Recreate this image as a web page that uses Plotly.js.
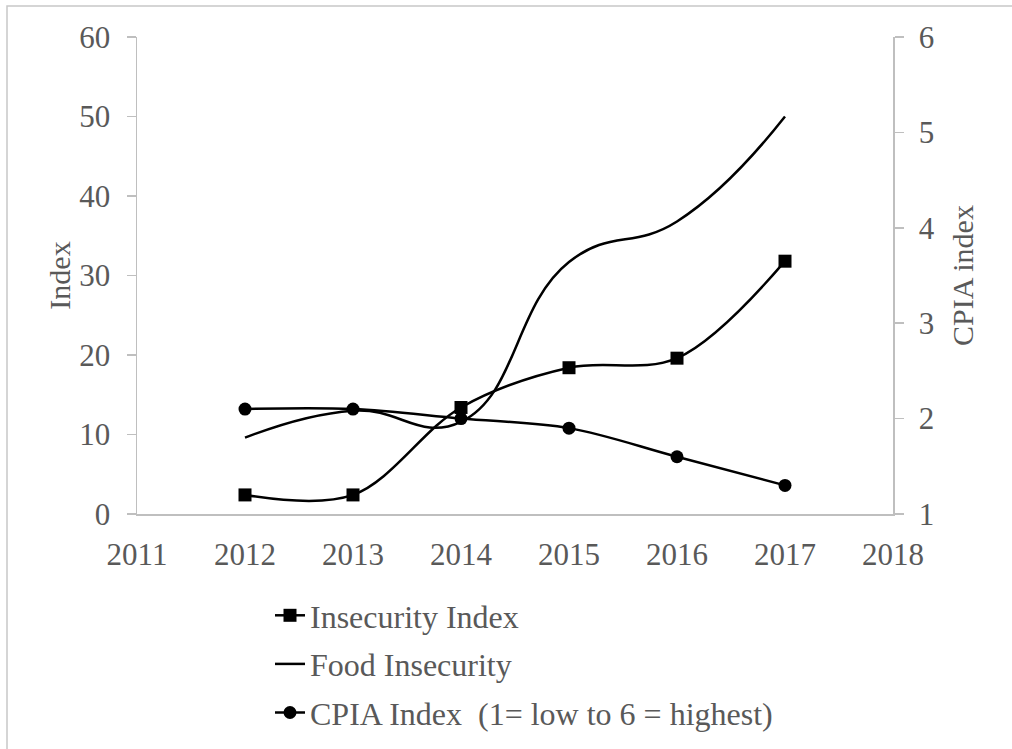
<!DOCTYPE html>
<html>
<head>
<meta charset="utf-8">
<script src="https://cdn.plot.ly/plotly-3.0.1.min.js"></script>
<style>
  html, body { margin: 0; padding: 0; background: #ffffff; }
  #chart { width: 1012px; height: 749px; }
</style>
</head>
<body>
<div id="chart"></div>
<script>
// Years on the horizontal axis
const years = [2012, 2013, 2014, 2015, 2016, 2017];

// Left-axis series
const insecurityIndex = [2.4, 2.4, 13.4, 18.4, 19.6, 31.8];
const foodInsecurity = [9.6, 13.0, 11.6, 31.7, 36.8, 50.0];

// Right-axis series (CPIA, 1 = low to 6 = highest)
const cpiaIndex = [2.1, 2.1, 2.0, 1.9, 1.6, 1.3];

// Labels
const seriesNames = [
  'Insecurity Index',
  'Food Insecurity',
  'CPIA Index  (1= low to 6 = highest)'
];
const leftTitle = 'Index';
const rightTitle = 'CPIA index';

const FONT = '"Liberation Serif", "Times New Roman", serif';
const GREY = '#595959';
const AXIS = '#bfbfbf';

const smoothLine = s => ({ color: '#000000', width: 2.5, shape: 'spline', smoothing: s });

const traces = [
  {
    x: years, y: insecurityIndex, name: seriesNames[0],
    type: 'scatter', mode: 'lines+markers',
    line: smoothLine(1),
    marker: { symbol: 'square', size: 13, color: '#000000' },
    legendgroup: 'a'
  },
  {
    x: years, y: foodInsecurity, name: seriesNames[1],
    type: 'scatter', mode: 'lines',
    line: smoothLine(1.3),
    legendgroup: 'b'
  },
  {
    x: years, y: cpiaIndex, name: seriesNames[2],
    type: 'scatter', mode: 'lines+markers', yaxis: 'y2',
    line: smoothLine(1),
    marker: { symbol: 'circle', size: 13, color: '#000000' },
    legendgroup: 'c'
  }
];

// plot area spans 137..893 px horizontally and 37..514 px vertically
const W = 1012, H = 749;
const PL = 137, PR = 893, PT = 37, PB = 514;
const px = v => (v - PL) / (PR - PL);
const py = v => (PB - v) / (PB - PT);

const layout = {
  width: W,
  height: H,
  margin: { l: PL, r: W - PR, t: PT, b: H - PB, pad: 0, autoexpand: false },
  paper_bgcolor: '#ffffff',
  plot_bgcolor: '#ffffff',
  font: { family: FONT, color: GREY, size: 31 },
  showlegend: true,
  legend: {
    x: px(270), xanchor: 'left',
    y: py(588), yanchor: 'top',
    orientation: 'v',
    tracegroupgap: 4,
    itemwidth: 30,
    font: { family: FONT, color: GREY, size: 32 },
    bgcolor: 'rgba(0,0,0,0)'
  },
  xaxis: {
    range: [2011, 2018],
    tickmode: 'linear', tick0: 2011, dtick: 1,
    showgrid: false, zeroline: false,
    showline: true, linecolor: AXIS, linewidth: 1.5,
    ticks: '',
    ticklabelstandoff: 12,
    tickfont: { family: FONT, color: GREY, size: 31 },
    fixedrange: true
  },
  yaxis: {
    range: [0, 60],
    tickmode: 'linear', tick0: 0, dtick: 10,
    showgrid: false, zeroline: false,
    showline: true, linecolor: AXIS, linewidth: 1.5,
    ticks: 'outside', ticklen: 9, tickcolor: AXIS, tickwidth: 1.5,
    ticklabelstandoff: 10,
    tickfont: { family: FONT, color: GREY, size: 31 },
    title: { text: leftTitle, font: { family: FONT, color: GREY, size: 30 }, standoff: 0 },
    automargin: false,
    fixedrange: true
  },
  yaxis2: {
    range: [1, 6],
    tickmode: 'linear', tick0: 1, dtick: 1,
    overlaying: 'y', side: 'right',
    showgrid: false, zeroline: false,
    showline: true, linecolor: AXIS, linewidth: 1.5,
    ticks: 'outside', ticklen: 9, tickcolor: AXIS, tickwidth: 1.5,
    ticklabelstandoff: 9,
    tickfont: { family: FONT, color: GREY, size: 31 },
    title: { text: rightTitle, font: { family: FONT, color: GREY, size: 30 }, standoff: 18 },
    automargin: false,
    fixedrange: true
  },
  shapes: [
    {
      type: 'rect', xref: 'paper', yref: 'paper', layer: 'below',
      x0: px(7), x1: px(1030), y0: py(6), y1: py(770),
      line: { color: '#c8c8c8', width: 1.5 },
      fillcolor: 'rgba(0,0,0,0)'
    }
  ]
};

Plotly.newPlot('chart', traces, layout, { displayModeBar: false, staticPlot: true });
</script>
</body>
</html>
